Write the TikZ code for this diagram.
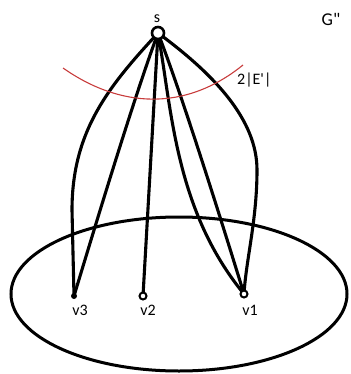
\documentclass[tikz,border=0pt]{standalone}
\usepackage{fontspec}
\setmainfont{Carlito}[Ligatures=TeXOff]
\begin{document}
\begin{tikzpicture}[x=1pt,y=-1pt,
  edge/.style={line width=3.1pt,line cap=round},
  vert/.style={circle,draw,line width=2pt,minimum size=7pt,inner sep=0pt,fill=white},
  lbl/.style={font=\fontsize{16}{16}\selectfont,inner sep=0pt}]
\useasboundingbox (0,0) rectangle (350,374);
\definecolor{redarc}{RGB}{200,60,60}
% ellipse
\draw[line width=3pt] (179,294) ellipse [x radius=168, y radius=77];
% vertices
\coordinate (s) at (158,33);
\coordinate (v1) at (244,294);
\coordinate (v2) at (143,296);
\coordinate (v3) at (74,296);
% edges
\draw[edge] (s) .. controls (110,85) and (72,130) .. (72,210) -- (v3);
\draw[edge] (s) .. controls (135,95) and (100,210) .. (v3);
\draw[edge] (s) -- (v2);
\draw[edge] (s) .. controls (172,110) and (175,210) .. (v1);
\draw[edge] (s) .. controls (180,90) and (215,200) .. (v1);
\draw[edge] (s) .. controls (215,75) and (257,120) .. (257,170) .. controls (257,220) and (246,260) .. (v1);
% red cut
\coordinate (ra) at (63,68);
\coordinate (rb) at (243,65);
\draw[redarc,line width=1.1pt] (ra) .. controls (120,108) and (185,112) .. (rb);
% vertex nodes
\node[vert,minimum size=12pt,line width=2.6pt] (sn) at (s) {};
\node[vert] (v1n) at (v1) {};
\node[vert] (v2n) at (v2) {};
\node[circle,fill=black,minimum size=6pt,inner sep=0pt] (v3n) at (v3) {};
% labels
\node[lbl] (sl) at (157,19) {s};
\node[lbl] (l1) at (250,310) {v1};
\node[lbl] (l2) at (148,310) {v2};
\node[lbl] (l3) at (80,310) {v3};
\node[lbl,anchor=west] (cut) at (237,80) {2|E'|};
\node[lbl,font=\fontsize{18}{18}\selectfont] (g) at (331,19) {G"};
\end{tikzpicture}
\end{document}
